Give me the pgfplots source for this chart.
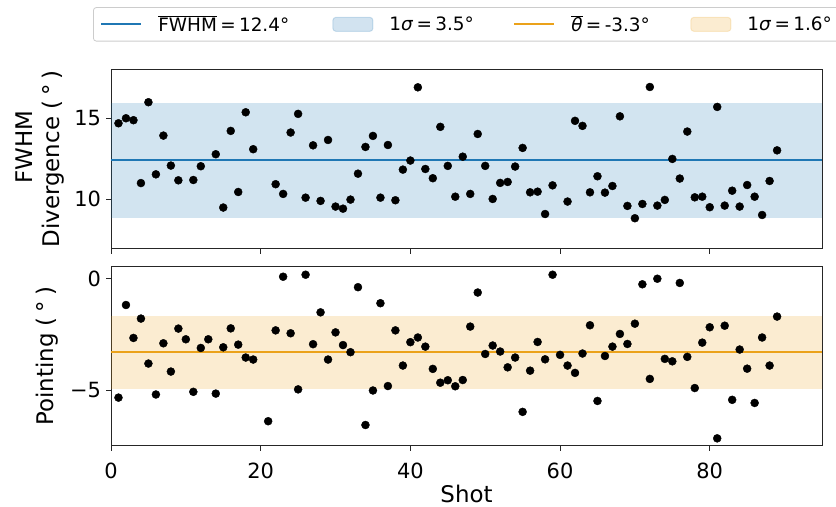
\documentclass[border=0pt]{standalone}
\usepackage{pgfplots}
\pgfplotsset{compat=1.18}
\usepackage{pgfplotstable}
\usepackage{fontspec}
\setmainfont{DejaVu Sans}

\definecolor{fwhmblue}{HTML}{1F77B4}
\definecolor{pointorange}{HTML}{EBA21A}
\definecolor{spine}{gray}{0.15}

% FWHM divergence per shot (degrees); shots without a fit are left out
\pgfplotstableread{
shot fwhm
1 14.69
2 15.00
3 14.88
4 11.00
5 15.99
6 11.54
7 13.93
8 12.08
9 11.17
11 11.19
12 12.04
14 12.78
15 9.49
16 14.22
17 10.45
18 15.37
19 13.09
22 10.93
23 10.33
24 14.12
25 15.27
26 10.10
27 13.33
28 9.90
29 13.66
30 9.55
31 9.42
32 9.98
33 11.58
34 13.23
35 13.91
36 10.10
37 13.35
38 9.94
39 11.83
40 12.39
41 16.91
42 11.87
43 11.30
44 14.47
45 12.06
46 10.16
47 12.63
48 10.33
49 14.03
50 12.06
51 10.02
52 11.01
53 11.07
54 12.02
55 13.17
56 10.43
57 10.47
58 9.09
59 10.86
61 9.86
62 14.84
63 14.53
64 10.43
65 11.42
66 10.41
67 10.82
68 15.12
69 9.59
70 8.83
71 9.71
72 16.93
73 9.61
74 9.96
75 12.49
76 11.28
77 14.18
78 10.12
79 10.16
80 9.51
81 15.70
82 9.61
83 10.53
84 9.55
85 10.88
86 10.16
87 9.03
88 11.13
89 13.02
}\fwhmdata

% beam pointing per shot (degrees)
\pgfplotstableread{
shot point
1 -5.33
2 -1.17
3 -2.65
4 -1.78
5 -3.80
6 -5.19
7 -2.89
8 -4.16
9 -2.23
10 -2.71
11 -5.07
12 -3.10
13 -2.71
14 -5.15
15 -3.07
16 -2.22
17 -2.95
18 -3.53
19 -3.62
21 -6.39
22 -2.31
23 0.10
24 -2.44
25 -4.96
26 0.19
27 -2.93
28 -1.50
29 -3.62
30 -2.40
31 -2.97
32 -3.29
33 -0.37
34 -6.56
35 -5.01
36 -1.09
37 -4.81
38 -2.31
39 -3.89
40 -2.84
41 -2.63
42 -3.04
43 -4.04
44 -4.66
45 -4.55
46 -4.82
47 -4.54
48 -2.14
49 -0.61
50 -3.37
51 -2.99
52 -3.26
53 -3.97
54 -3.53
55 -5.97
56 -4.12
57 -2.83
58 -3.61
59 0.19
60 -3.41
61 -3.89
62 -4.22
63 -3.35
64 -2.08
65 -5.48
66 -3.46
67 -3.04
68 -2.47
69 -2.92
70 -2.01
71 -0.24
72 -4.49
73 0.01
74 -3.59
75 -3.70
76 -0.18
77 -3.50
78 -4.90
79 -2.86
80 -2.17
81 -7.16
82 -2.10
83 -5.43
84 -3.17
85 -4.03
86 -5.57
87 -2.63
88 -3.89
89 -1.69
}\pointdata

\pgfplotsset{
  shotaxis/.style={
    scale only axis,
    width=711bp,
    xmin=0, xmax=95,
    xtick={0,20,40,60,80},
    xtick pos=left, ytick pos=left,
    tick align=outside,
    major tick length=4.9bp,
    axis line style={spine, line width=0.9bp},
    every tick/.style={spine, line width=0.9bp},
    /pgf/number format/assume math mode=true,
    tick label style={font=\fontsize{21}{25}\selectfont},
    yticklabel style={anchor=east, inner sep=0pt, xshift=-5bp},
    xticklabel style={anchor=base, inner sep=0pt, yshift=-27.6bp},
    every axis x label/.style={font=\fontsize{23}{27.7}\selectfont},
    every axis y label/.style={rotate=90, anchor=south, inner sep=0pt, align=center,
      font=\fontsize{23}{27.7}\selectfont},
    shots/.style={only marks, mark=*, mark size=4bp, black},
    clip=true,
  },
  lineleg/.style={legend image code/.code={\draw[##1, line width=2bp] (0bp,0bp) -- (40bp,0bp);}},
  bandleg/.style={legend image code/.code={\draw[##1] (0bp,-7bp) rectangle (40bp,7bp);}},
}

% legend text cell: gap after the sample, then a box of fixed width
\newcommand{\legtext}[2]{\makebox[#1][l]{\hspace*{16bp}#2}}
\newcommand{\eq}{\kern0.18em=\kern0.18em}

\begin{document}
\begin{tikzpicture}
% FWHM divergence panel
\begin{axis}[
  shotaxis,
  at={(0,0)}, anchor=north west,
  height=179.7bp,
  ymin=6.95, ymax=18.04,
  ytick={10,15},
  xticklabels={},
  ylabel={\hspace*{23bp}FWHM\\Divergence (\kern5bp°\kern5bp)},
  ylabel style={at={(axis description cs:-0.065,0.5)}},
  legend columns=4,
  legend style={
    at={(axis description cs:-0.02532,1.3444)}, anchor=north west,
    draw=black!20, rounded corners=3bp, line width=0.8bp,
    inner xsep=7bp, inner ysep=8bp,
    font=\fontsize{18.5}{22}\selectfont,
    nodes={inner sep=0pt},
  },
]
\addplot[shots, forget plot] table[x=shot, y=fwhm] {\fwhmdata};
\addplot[draw=fwhmblue, line width=2bp, lineleg] coordinates {(0,12.4) (95,12.4)};
\addlegendentry{\legtext{190bp}{$\overline{\hbox{FWHM}}$\eq12.4°}}
\addplot[fill=fwhmblue, fill opacity=0.2, draw=fwhmblue, draw opacity=0.2, line width=1bp, bandleg]
  coordinates {(0,8.9) (95,8.9) (95,15.9) (0,15.9)} -- cycle;
\addlegendentry{\legtext{140bp}{1\textit{σ}\eq3.5°}}
\addlegendimage{draw=pointorange, line width=2bp, lineleg}
\addlegendentry{\legtext{135bp}{$\overline{\hbox{\itshape θ}}$\eq-3.3°}}
\addlegendimage{fill=pointorange, fill opacity=0.2, draw=pointorange, draw opacity=0.2, line width=1bp, bandleg}
\addlegendentry{\legtext{102bp}{1\textit{σ}\eq1.6°}}
\end{axis}

% pointing panel
\begin{axis}[
  shotaxis,
  at={(0,-197.7bp)}, anchor=north west,
  height=179bp,
  ymin=-7.49, ymax=0.55,
  ytick={-5,0},
  yticklabels={−5,0},
  xlabel={Shot},
  xlabel style={at={(axis description cs:0.5,0)}, anchor=base, yshift=-56.3bp},
  ylabel={Pointing (\kern5bp°\kern5bp)},
  ylabel style={at={(axis description cs:-0.0744,0.5)}},
]
\addplot[shots] table[x=shot, y=point] {\pointdata};
\addplot[fill=pointorange, fill opacity=0.2, draw=pointorange, draw opacity=0.2, line width=1bp]
  coordinates {(0,-4.9) (95,-4.9) (95,-1.7) (0,-1.7)} -- cycle;
\addplot[draw=pointorange, line width=2bp] coordinates {(0,-3.3) (95,-3.3)};
\end{axis}

\pgfresetboundingbox
\useasboundingbox (-111bp,-438bp) rectangle (725bp,69bp);
\end{tikzpicture}
\end{document}
